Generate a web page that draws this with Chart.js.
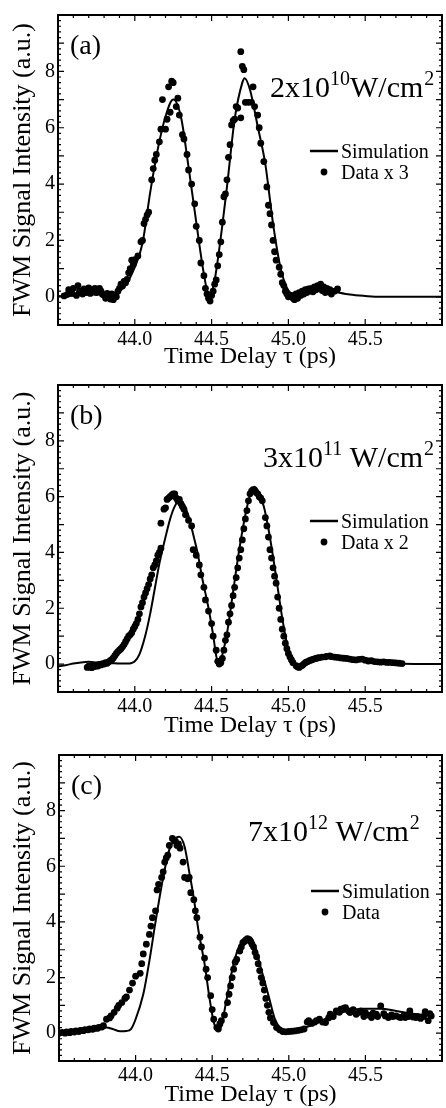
<!DOCTYPE html>
<html>
<head>
<meta charset="utf-8">
<script src="https://cdn.jsdelivr.net/npm/chart.js@4.4.1/dist/chart.umd.min.js"></script>
<style>
  html, body { margin: 0; padding: 0; background: #fff; }
  #wrap { position: relative; width: 446px; height: 1108px; }
  canvas { position: absolute; left: 0; }
</style>
</head>
<body>
<div id="wrap">
  <canvas id="chartA" width="446" height="370" style="top:0px"></canvas>
  <canvas id="chartB" width="446" height="370" style="top:370px"></canvas>
  <canvas id="chartC" width="446" height="368" style="top:740px"></canvas>
</div>
<script>
const FONT = "'Liberation Serif', 'Times New Roman', serif";

// axis ticks and labels
const xTicks = [44.0, 44.5, 45.0, 45.5];
const yTicks = [0, 2, 4, 6, 8];
const xTitle = "Time Delay τ (ps)";
const yTitle = "FWM Signal Intensity (a.u.)";
const simLabel = "Simulation";
const dataLabels = ["Data x 3", "Data x 2", "Data"];
const letters = ["(a)", "(b)", "(c)"];
// [mantissa "x10", exponent, unit, unit power]
const powers = [
  ["2x10", "10", "W/cm", "2"],
  ["3x10", "11", " W/cm", "2"],
  ["7x10", "12", " W/cm", "2"]
];

// (a) 2x10^10 W/cm^2
const simA = [
  [43.50,0.02],[43.60,0.05],[43.70,0.08],[43.80,0.08],[43.85,0.10],[43.90,0.22],[43.95,0.50],
  [44.00,1.05],[44.05,1.90],[44.10,3.70],[44.15,5.25],[44.20,6.40],[44.25,7.00],[44.30,6.40],
  [44.35,4.60],[44.40,2.65],[44.45,0.80],[44.485,0.00],[44.52,0.60],[44.55,1.70],[44.60,3.90],
  [44.65,6.30],[44.70,7.60],[44.715,7.76],[44.75,7.35],[44.80,6.05],[44.85,4.70],[44.90,2.60],
  [44.95,1.00],[45.00,0.22],[45.05,0.08],[45.10,0.15],[45.20,0.28],[45.30,0.18],[45.40,0.08],
  [45.50,0.03],[45.60,0.00],[46.00,0.00]
];
const dataA = [
  [43.54,0.03],[43.56,0.08],[43.57,0.25],[43.59,0.12],[43.60,0.30],[43.62,0.05],[43.63,0.40],
  [43.64,0.20],[43.66,0.10],[43.67,0.28],[43.68,0.15],[43.70,0.32],[43.71,0.12],[43.72,0.25],
  [43.74,0.30],[43.75,0.15],[43.77,0.30],[43.78,0.20],[43.79,0.08],[43.81,-0.05],[43.82,0.12],
  [43.83,0.05],[43.84,-0.08],[43.85,0.10],[43.86,-0.10],[43.87,0.05],[43.88,0.00],[43.89,0.20],
  [43.90,0.30],[43.91,0.45],[43.92,0.38],[43.93,0.55],[43.94,0.50],[43.95,0.62],[43.96,0.85],
  [43.97,1.00],[43.98,1.30],[43.99,1.15],[44.00,1.32],[44.02,1.45],[44.04,1.95],[44.05,2.00],
  [44.06,2.60],[44.07,2.75],[44.08,2.90],[44.09,3.00],[44.11,4.15],[44.12,4.55],[44.13,4.85],
  [44.14,5.05],[44.16,5.50],[44.17,5.95],[44.18,7.00],[44.20,5.95],[44.21,6.30],[44.22,7.45],
  [44.23,6.55],[44.24,7.65],[44.25,7.60],[44.27,6.75],[44.28,7.05],[44.29,6.45],[44.31,5.75],
  [44.32,5.60],[44.34,5.05],[44.35,4.50],[44.37,4.00],[44.39,3.30],[44.40,2.50],[44.42,2.00],
  [44.43,1.20],[44.45,0.75],[44.46,0.30],[44.47,0.10],[44.48,-0.05],[44.49,-0.15],[44.50,0.05],
  [44.51,0.20],[44.52,0.45],[44.53,0.60],[44.54,1.10],[44.55,1.50],[44.56,1.95],[44.57,2.65],
  [44.58,3.55],[44.59,3.65],[44.60,4.15],[44.61,4.95],[44.62,5.40],[44.63,6.10],[44.64,6.25],
  [44.65,6.30],[44.66,6.75],[44.67,6.70],[44.69,6.35],[44.69,8.70],[44.70,8.18],[44.71,8.06],
  [44.72,6.90],[44.74,6.90],[44.76,6.90],[44.77,7.45],[44.78,6.75],[44.80,6.45],[44.81,6.00],
  [44.82,5.45],[44.84,4.80],[44.86,3.90],[44.87,3.25],[44.88,2.95],[44.89,2.55],[44.90,2.00],
  [44.91,1.60],[44.92,1.30],[44.94,1.05],[44.95,0.80],[44.96,0.50],[44.97,0.40],[44.98,0.20],
  [44.99,0.10],[45.00,0.00],[45.02,0.05],[45.03,-0.05],[45.04,-0.10],[45.05,0.10],[45.06,-0.05],
  [45.07,0.15],[45.08,0.05],[45.09,0.20],[45.10,0.10],[45.11,0.25],[45.12,0.15],[45.13,0.28],
  [45.14,0.20],[45.15,0.30],[45.16,0.18],[45.17,0.35],[45.18,0.25],[45.19,0.40],[45.20,0.30],
  [45.21,0.45],[45.22,0.22],[45.23,0.35],[45.24,0.15],[45.25,0.30],[45.26,0.18],[45.27,0.25],
  [45.28,0.10],[45.30,0.20],[45.32,0.28]
];

// (b) 3x10^11 W/cm^2
const simB = [
  [43.50,-0.08],[43.55,-0.04],[43.60,0.02],[43.65,0.06],[43.70,0.08],[43.75,0.06],[43.80,0.04],
  [43.85,0.03],[43.90,0.02],[43.95,0.02],[43.98,0.04],[44.00,0.10],[44.03,0.35],[44.065,0.95],
  [44.10,1.80],[44.13,2.70],[44.16,3.60],[44.20,4.55],[44.23,5.20],[44.26,5.65],[44.29,5.85],
  [44.31,5.80],[44.35,5.30],[44.38,4.65],[44.41,3.95],[44.44,3.05],[44.48,2.00],[44.51,1.05],
  [44.53,0.30],[44.545,0.00],[44.56,0.15],[44.60,1.10],[44.64,2.60],[44.68,4.10],[44.72,5.35],
  [44.75,6.05],[44.78,6.35],[44.81,6.10],[44.84,5.65],[44.87,4.85],[44.90,3.85],[44.93,2.75],
  [44.96,1.65],[44.99,0.75],[45.02,0.20],[45.05,-0.04],[45.08,-0.12],[45.11,-0.05],[45.15,0.10],
  [45.20,0.20],[45.27,0.27],[45.35,0.23],[45.45,0.15],[45.55,0.07],[45.65,0.03],[45.75,0.01],
  [46.00,0.00]
];
const dataB = [
  [43.69,-0.12],[43.70,-0.07],[43.71,-0.11],[43.72,-0.13],[43.73,-0.05],[43.74,-0.09],[43.75,-0.04],
  [43.76,-0.07],[43.77,-0.01],[43.78,-0.03],[43.79,0.02],[43.80,0.00],[43.81,0.05],[43.82,0.03],
  [43.83,0.08],[43.84,0.12],[43.85,0.16],[43.86,0.22],[43.87,0.30],[43.88,0.38],[43.89,0.45],
  [43.90,0.50],[43.91,0.55],[43.92,0.62],[43.93,0.70],[43.94,0.80],[43.95,0.90],[43.96,1.00],
  [43.97,1.05],[43.98,1.12],[43.99,1.25],[44.00,1.35],[44.01,1.45],[44.02,1.60],[44.03,1.80],
  [44.04,2.05],[44.05,2.20],[44.06,2.40],[44.07,2.55],[44.08,2.70],[44.09,2.85],[44.10,3.05],
  [44.11,3.20],[44.12,3.45],[44.13,3.55],[44.14,3.70],[44.15,3.90],[44.16,4.00],[44.17,4.15],
  [44.17,5.05],[44.19,5.55],[44.20,5.60],[44.21,5.90],[44.22,5.95],[44.23,6.00],[44.24,6.05],
  [44.25,6.10],[44.26,6.10],[44.27,5.95],[44.28,5.85],[44.29,5.90],[44.30,5.75],[44.31,5.65],
  [44.32,5.55],[44.33,5.35],[44.35,5.15],[44.37,4.95],[44.38,4.10],[44.40,3.90],[44.42,3.55],
  [44.43,3.20],[44.45,2.75],[44.46,2.30],[44.48,1.90],[44.50,1.45],[44.51,1.00],[44.53,0.50],
  [44.54,0.10],[44.55,0.00],[44.56,0.05],[44.57,0.20],[44.58,0.50],[44.59,0.85],[44.60,1.05],
  [44.61,1.50],[44.62,1.80],[44.63,2.10],[44.64,2.45],[44.65,2.75],[44.66,3.10],[44.67,3.45],
  [44.68,3.80],[44.69,4.10],[44.70,4.45],[44.71,4.85],[44.72,5.20],[44.73,5.50],[44.74,5.85],
  [44.75,6.10],[44.76,6.20],[44.77,6.25],[44.78,6.22],[44.79,6.15],[44.80,6.10],[44.81,6.00],
  [44.82,5.95],[44.83,5.85],[44.85,5.25],[44.86,4.95],[44.87,4.55],[44.88,4.10],[44.89,3.80],
  [44.90,3.45],[44.91,3.15],[44.92,2.90],[44.93,2.40],[44.94,2.00],[44.95,1.60],[44.96,1.25],
  [44.97,1.00],[44.98,0.75],[44.99,0.55],[45.00,0.38],[45.01,0.25],[45.02,0.15],[45.03,0.05],
  [45.05,-0.06],[45.06,-0.10],[45.07,-0.12],[45.08,-0.08],[45.09,-0.05],[45.10,0.00],[45.11,0.05],
  [45.12,0.08],[45.13,0.10],[45.14,0.13],[45.15,0.15],[45.16,0.17],[45.17,0.19],[45.18,0.20],
  [45.19,0.22],[45.20,0.23],[45.22,0.25],[45.24,0.26],[45.25,0.28],[45.27,0.29],[45.28,0.27],
  [45.30,0.25],[45.32,0.24],[45.34,0.22],[45.36,0.21],[45.38,0.20],[45.40,0.18],[45.42,0.16],
  [45.44,0.15],[45.46,0.17],[45.48,0.18],[45.50,0.14],[45.52,0.11],[45.54,0.12],[45.56,0.09],
  [45.58,0.08],[45.60,0.07],[45.62,0.08],[45.64,0.06],[45.66,0.06],[45.68,0.05],[45.70,0.04],
  [45.72,0.03],[45.74,0.02]
];

// (c) 7x10^12 W/cm^2
const simC = [
  [43.50,0.00],[43.60,0.06],[43.66,0.10],[43.75,0.16],[43.81,0.20],[43.85,0.15],[43.90,0.07],
  [43.94,0.08],[43.97,0.15],[44.00,0.50],[44.05,1.40],[44.09,2.60],[44.13,4.00],[44.18,5.60],
  [44.22,6.60],[44.26,7.00],[44.285,7.06],[44.32,6.70],[44.35,5.80],[44.38,4.85],[44.41,3.70],
  [44.45,2.50],[44.48,1.35],[44.51,0.40],[44.535,0.10],[44.56,0.27],[44.59,1.10],[44.63,2.25],
  [44.67,3.05],[44.72,3.40],[44.75,3.45],[44.78,3.10],[44.82,2.30],[44.87,1.30],[44.91,0.50],
  [44.95,0.15],[45.00,0.06],[45.06,0.13],[45.17,0.33],[45.28,0.62],[45.38,0.80],[45.49,0.88],
  [45.60,0.88],[45.70,0.80],[45.81,0.70],[45.93,0.62]
];
const dataC = [
  [43.50,0.00],[43.52,0.03],[43.54,0.00],[43.55,0.05],[43.57,0.02],[43.58,0.06],[43.60,0.04],
  [43.61,0.08],[43.63,0.06],[43.64,0.10],[43.66,0.09],[43.67,0.13],[43.69,0.12],[43.70,0.15],
  [43.72,0.14],[43.73,0.18],[43.75,0.17],[43.76,0.21],[43.78,0.22],[43.79,0.27],[43.81,0.50],
  [43.83,0.55],[43.84,0.62],[43.86,0.75],[43.88,0.90],[43.89,1.00],[43.91,1.10],[43.93,1.25],
  [43.94,1.30],[43.96,1.55],[43.98,1.80],[44.00,2.05],[44.03,2.15],[44.04,2.50],[44.05,2.85],
  [44.07,3.20],[44.09,3.55],[44.10,3.85],[44.11,4.15],[44.13,4.40],[44.14,5.15],[44.15,5.35],
  [44.17,5.60],[44.18,5.80],[44.19,6.15],[44.20,6.30],[44.21,6.40],[44.22,6.75],[44.24,7.00],
  [44.25,6.95],[44.26,6.90],[44.27,6.75],[44.28,6.80],[44.29,6.65],[44.31,6.15],[44.32,5.60],
  [44.34,5.55],[44.35,5.60],[44.36,5.05],[44.38,4.80],[44.39,4.40],[44.40,4.15],[44.42,3.45],
  [44.43,3.10],[44.45,2.70],[44.46,2.30],[44.47,2.00],[44.49,1.35],[44.50,0.85],[44.51,0.50],
  [44.53,0.20],[44.54,0.15],[44.55,0.33],[44.56,0.45],[44.58,0.65],[44.60,1.10],[44.61,1.40],
  [44.62,1.70],[44.63,2.00],[44.64,2.30],[44.65,2.55],[44.66,2.65],[44.68,2.95],[44.69,3.10],
  [44.70,3.25],[44.71,3.30],[44.72,3.35],[44.73,3.40],[44.74,3.35],[44.75,3.30],[44.76,3.20],
  [44.77,3.10],[44.78,2.90],[44.79,2.75],[44.80,2.50],[44.81,2.25],[44.82,2.00],[44.83,1.80],
  [44.84,1.55],[44.85,1.25],[44.86,1.00],[44.87,0.75],[44.88,0.55],[44.90,0.38],[44.92,0.20],
  [44.94,0.12],[44.96,0.06],[44.98,0.05],[45.00,0.06],[45.02,0.07],[45.04,0.08],[45.06,0.10],
  [45.08,0.12],[45.10,0.15],[45.12,0.40],[45.13,0.45],[45.15,0.35],[45.17,0.40],[45.18,0.45],
  [45.20,0.50],[45.22,0.40],[45.24,0.38],[45.26,0.55],[45.27,0.68],[45.29,0.60],[45.31,0.80],
  [45.33,0.75],[45.34,0.86],[45.36,0.90],[45.37,0.92],[45.39,0.80],[45.40,0.74],[45.42,0.85],
  [45.44,0.68],[45.46,0.75],[45.47,0.80],[45.49,0.60],[45.50,0.74],[45.52,0.65],[45.54,0.56],
  [45.55,0.72],[45.57,0.68],[45.58,0.60],[45.60,0.98],[45.62,0.70],[45.63,0.62],[45.65,0.56],
  [45.67,0.66],[45.68,0.60],[45.70,0.62],[45.72,0.58],[45.73,0.56],[45.75,0.62],[45.76,0.56],
  [45.78,0.60],[45.79,0.80],[45.81,0.58],[45.83,0.56],[45.84,0.60],[45.86,0.53],[45.88,0.60],
  [45.89,0.77],[45.91,0.45],[45.92,0.70],[45.93,0.62]
];

const toXY = arr => arr.map(p => ({ x: p[0], y: p[1] }));

// box + inward ticks on all four sides
const axisBox = {
  id: "axisBox",
  afterDatasetsDraw(chart) {
    const { ctx, chartArea: a, scales: { x, y } } = chart;
    ctx.save();
    ctx.strokeStyle = "#000";
    ctx.lineWidth = 1.2;
    ctx.beginPath();
    for (let i = 435; i <= 460; i++) {
      const px = x.getPixelForValue(i / 10);
      const len = i % 5 === 0 ? 6 : 3;
      ctx.moveTo(px, a.bottom); ctx.lineTo(px, a.bottom - len);
      ctx.moveTo(px, a.top); ctx.lineTo(px, a.top + len);
    }
    for (let i = -5; i <= 50; i++) {
      const py = y.getPixelForValue(i / 5);
      const len = i % 5 === 0 ? 6 : 3;
      ctx.moveTo(a.left, py); ctx.lineTo(a.left + len, py);
      ctx.moveTo(a.right, py); ctx.lineTo(a.right - len, py);
    }
    ctx.stroke();
    ctx.lineWidth = 2;
    ctx.strokeRect(a.left, a.top, a.right - a.left, a.bottom - a.top);
    ctx.restore();
  }
};

// panel letter, intensity label and legend
const panelText = {
  id: "panelText",
  afterDraw(chart, args, o) {
    const { ctx, chartArea: a } = chart;
    ctx.save();
    ctx.fillStyle = "#000";
    ctx.strokeStyle = "#000";
    ctx.textBaseline = "alphabetic";
    ctx.textAlign = "left";

    ctx.font = "28px " + FONT;
    ctx.fillText(o.letter, a.left + 12, a.top + 39);

    // intensity with superscripts
    const [m, e, u, p] = o.power;
    let px = o.powerX;
    const by = a.top + o.powerY;
    ctx.font = "30px " + FONT;
    ctx.fillText(m, px, by); px += ctx.measureText(m).width;
    ctx.font = "20px " + FONT;
    ctx.fillText(e, px, by - 12); px += ctx.measureText(e).width;
    ctx.font = "30px " + FONT;
    ctx.fillText(u, px, by); px += ctx.measureText(u).width;
    ctx.font = "20px " + FONT;
    ctx.fillText(p, px + 1, by - 12);

    // legend
    const lx = a.left + 252;
    ctx.lineWidth = 2.5;
    ctx.beginPath();
    ctx.moveTo(lx, a.top + 136); ctx.lineTo(lx + 28, a.top + 136);
    ctx.stroke();
    ctx.beginPath();
    ctx.arc(lx + 14, a.top + 157, 3.4, 0, Math.PI * 2);
    ctx.fill();
    ctx.font = "20px " + FONT;
    ctx.fillText(simLabel, lx + 31, a.top + 143);
    ctx.fillText(o.dataLabel, lx + 31, a.top + 164);
    ctx.restore();
  }
};

function makePanel(id, sim, data, cfg) {
  return new Chart(document.getElementById(id), {
    type: "scatter",
    data: {
      datasets: [
        {
          label: simLabel,
          data: toXY(sim),
          showLine: true,
          borderColor: "#000",
          borderWidth: 2,
          pointRadius: 0,
          cubicInterpolationMode: "monotone",
        },
        {
          label: cfg.dataLabel,
          data: toXY(data),
          pointRadius: 3.4,
          backgroundColor: "#000",
          borderWidth: 0,
        },
      ],
    },
    options: {
      responsive: false,
      animation: false,
      devicePixelRatio: 1,
      layout: { padding: { top: cfg.top, right: 1, bottom: 0, left: 0 } },
      plugins: {
        legend: { display: false },
        tooltip: { enabled: false },
        panelText: cfg,
      },
      scales: {
        x: {
          type: "linear",
          min: 43.5,
          max: 46.0,
          grid: { display: false, drawTicks: false },
          border: { display: false },
          afterBuildTicks: (s) => { s.ticks = xTicks.map((v) => ({ value: v })); },
          afterFit: (s) => { s.height = cfg.h - cfg.bottom; },
          ticks: {
            color: "#000",
            padding: 3,
            maxRotation: 0,
            autoSkip: false,
            font: { family: FONT, size: 20 },
            callback: (v) => Number(v).toFixed(1),
          },
          title: {
            display: true,
            text: xTitle,
            color: "#000",
            font: { family: FONT, size: 24, lineHeight: 1 },
            padding: { top: 0, bottom: cfg.titlePad },
          },
        },
        y: {
          type: "linear",
          min: -1,
          max: 10,
          grid: { display: false, drawTicks: false },
          border: { display: false },
          afterBuildTicks: (s) => { s.ticks = yTicks.map((v) => ({ value: v })); },
          afterFit: (s) => { s.width = cfg.left; },
          ticks: {
            color: "#000",
            padding: 3,
            font: { family: FONT, size: 20 },
          },
          title: {
            display: true,
            text: yTitle,
            color: "#000",
            font: { family: FONT, size: 26, lineHeight: 1 },
            padding: { top: 10, bottom: 0 },
          },
        },
      },
    },
    plugins: [axisBox, panelText],
  });
}

document.addEventListener("DOMContentLoaded", () => {
  makePanel("chartA", simA, dataA, {
    h: 370, top: 13, bottom: 325, left: 58, titlePad: 1,
    letter: letters[0], power: powers[0], powerX: 270, powerY: 82, dataLabel: dataLabels[0],
  });
  makePanel("chartB", simB, dataB, {
    h: 370, top: 9, bottom: 322, left: 58, titlePad: 2,
    letter: letters[1], power: powers[1], powerX: 263, powerY: 82, dataLabel: dataLabels[1],
  });
  makePanel("chartC", simC, dataC, {
    h: 368, top: 8, bottom: 321, left: 59, titlePad: 1.4,
    letter: letters[2], power: powers[2], powerX: 248, powerY: 86, dataLabel: dataLabels[2],
  });
});
</script>
</body>
</html>
